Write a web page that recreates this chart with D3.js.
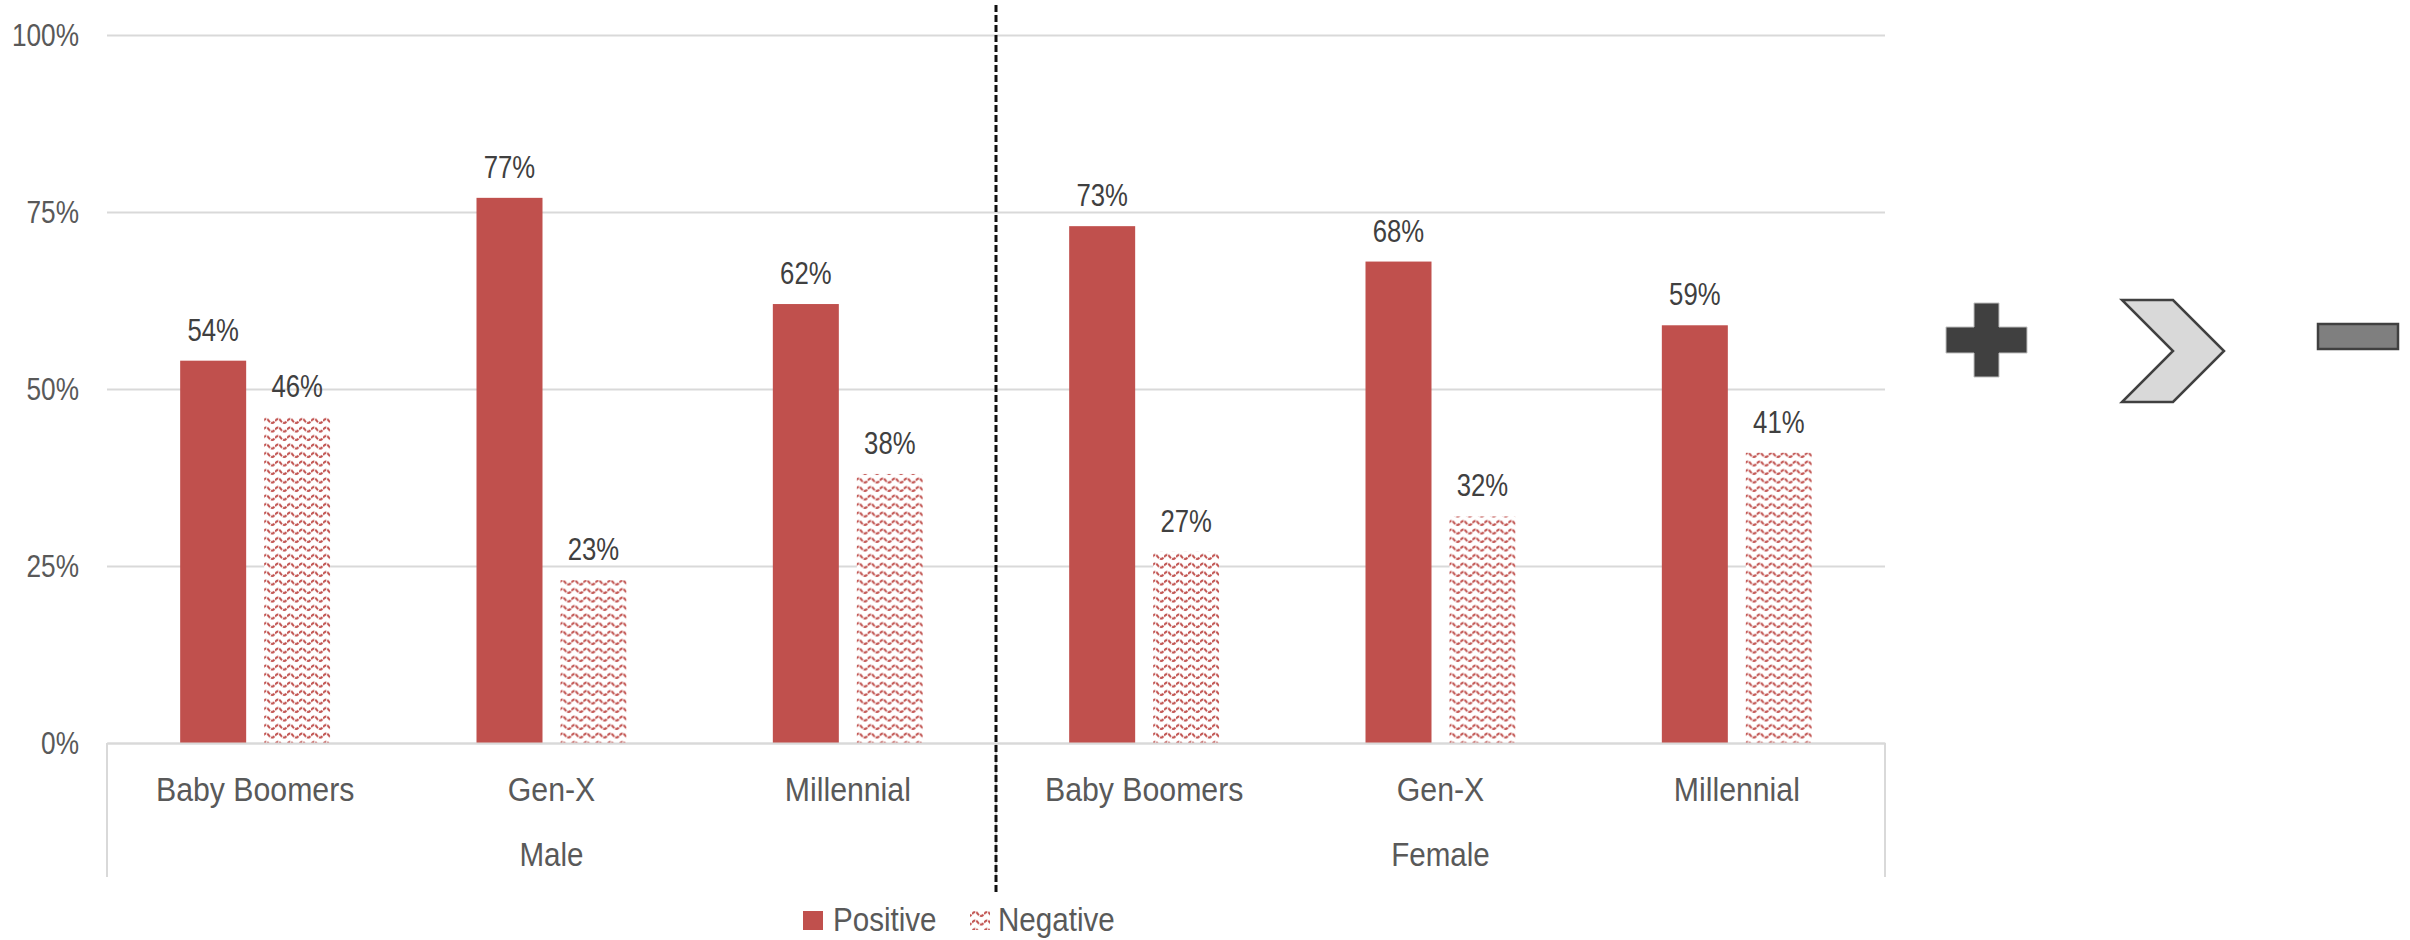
<!DOCTYPE html>
<html>
<head>
<meta charset="utf-8">
<script src="https://cdn.jsdelivr.net/npm/d3@7"></script>
<style>
  body { margin: 0; background: #fff; }
  svg { display: block; }
  text { font-family: "Liberation Sans", Arial, sans-serif; }
</style>
</head>
<body>
<svg id="chart" width="2410" height="940"></svg>
<script>
// ---- data ----
const genders = ["Male", "Female"];
const generations = ["Baby Boomers", "Gen-X", "Millennial"];
const seriesNames = ["Positive", "Negative"];
const positive = [54, 77, 62, 73, 68, 59];   // Male x3, then Female x3
const negative = [46, 23, 38, 27, 32, 41];
const yTicks = [0, 25, 50, 75, 100];

// ---- layout ----
const W = 2410, H = 940;
const plotLeft = 107, plotRight = 1885, plotTop = 35, plotBottom = 743;
const RED = "#c0504d";

const svg = d3.select("#chart").attr("width", W).attr("height", H);

// pattern for the "Negative" series: red waves on white
const defs = svg.append("defs");
const pat = defs.append("pattern")
  .attr("id", "wave")
  .attr("patternUnits", "userSpaceOnUse")
  .attr("width", 12).attr("height", 8.5);
pat.append("rect").attr("width", 12).attr("height", 8.5).attr("fill", "#fff");
pat.append("path")
  .attr("d", "M0,4.5 Q3,0.5 6,4.5 T12,4.5")
  .attr("fill", "none")
  .attr("stroke", RED)
  .attr("stroke-width", 2)
  .attr("stroke-dasharray", "4,1");

const cats = [];
genders.forEach(g => generations.forEach(c => cats.push({ gender: g, gen: c, key: g + "|" + c })));
cats.forEach((d, i) => { d.Positive = positive[i]; d.Negative = negative[i]; });

const x = d3.scaleBand().domain(cats.map(d => d.key)).range([plotLeft, plotRight]);
const xGroup = d3.scaleBand().domain(genders).range([plotLeft, plotRight]);
const y = d3.scaleLinear().domain([0, 100]).range([plotBottom, plotTop]);

// two bars per category: bar 66 px, gap 18 px inside a ~296 px band
const step = 84, pIn = 18 / 84;
const pOut = (x.bandwidth() / step - 2 + pIn) / 2;
const xs = d3.scaleBand().domain(seriesNames).range([0, x.bandwidth()])
  .paddingInner(pIn).paddingOuter(pOut);

// condensed text helper (keeps the anchor position)
function condense(sel, k) {
  sel.each(function () {
    const t = d3.select(this);
    const xv = +t.attr("x") || 0;
    t.attr("x", xv / k).attr("transform", `scale(${k},1)`);
  });
}

// ---- gridlines + y labels ----
const yAxis = svg.append("g")
  .attr("transform", `translate(${plotLeft},0)`)
  .call(d3.axisLeft(y).tickValues(yTicks).tickFormat(d => d + "%")
        .tickSize(-(plotRight - plotLeft)).tickPadding(28));
yAxis.select(".domain").remove();
yAxis.selectAll(".tick line").attr("stroke", "#d9d9d9").attr("stroke-width", 2);
yAxis.selectAll(".tick text")
  .attr("fill", "#595959").attr("font-size", 32).attr("dy", "0.34em");
condense(yAxis.selectAll(".tick text"), 0.82);

// ---- bars ----
const gCat = svg.append("g").selectAll("g").data(cats).join("g")
  .attr("transform", d => `translate(${x(d.key)},0)`);

gCat.selectAll("rect").data(d => seriesNames.map(s => ({ s, v: d[s] }))).join("rect")
  .attr("x", d => xs(d.s))
  .attr("width", xs.bandwidth())
  .attr("y", d => y(d.v))
  .attr("height", d => y(0) - y(d.v))
  .attr("fill", d => d.s === "Positive" ? RED : "url(#wave)");

const valLabels = gCat.selectAll("text").data(d => seriesNames.map(s => ({ s, v: d[s] }))).join("text")
  .attr("x", d => xs(d.s) + xs.bandwidth() / 2)
  .attr("y", d => y(d.v) - 20)
  .attr("text-anchor", "middle")
  .attr("font-size", 31)
  .attr("fill", "#404040")
  .text(d => d.v + "%");
condense(valLabels, 0.83);

// ---- category axis ----
const xAxis = svg.append("g")
  .attr("transform", `translate(0,${plotBottom})`)
  .call(d3.axisBottom(x).tickSize(0).tickFormat(k => k.split("|")[1]));
xAxis.select(".domain").attr("stroke", "#d9d9d9").attr("stroke-width", 2);
xAxis.selectAll(".tick text")
  .attr("y", 58).attr("dy", 0)
  .attr("fill", "#595959").attr("font-size", 34);
condense(xAxis.selectAll(".tick text"), 0.89);

const gAxis = svg.append("g")
  .attr("transform", `translate(0,${plotBottom})`)
  .call(d3.axisBottom(xGroup).tickSize(0));
gAxis.select(".domain").remove();
gAxis.selectAll(".tick text")
  .attr("y", 123).attr("dy", 0)
  .attr("fill", "#595959").attr("font-size", 34);
condense(gAxis.selectAll(".tick text"), 0.87);

// group separators of the two-level axis
const seps = [plotLeft, xGroup("Female"), plotRight];
svg.append("g").selectAll("line").data(seps).join("line")
  .attr("x1", d => d).attr("x2", d => d)
  .attr("y1", plotBottom).attr("y2", 877)
  .attr("stroke", "#d9d9d9").attr("stroke-width", 2);

// dashed divider between Male and Female
svg.append("line")
  .attr("x1", xGroup("Female")).attr("x2", xGroup("Female"))
  .attr("y1", 5).attr("y2", 895)
  .attr("stroke", "#111").attr("stroke-width", 3)
  .attr("stroke-dasharray", "7,3");

// ---- legend ----
const legend = svg.append("g");
const legendItems = [
  { name: "Positive", sx: 803, tx: 833, fill: RED },
  { name: "Negative", sx: 970, tx: 998, fill: "url(#wave)" }
];
legendItems.forEach(it => {
  legend.append("rect").attr("x", it.sx).attr("y", 911)
    .attr("width", 20).attr("height", 19).attr("fill", it.fill);
  const t = legend.append("text").attr("x", it.tx).attr("y", 931)
    .attr("font-size", 34).attr("fill", "#595959").text(it.name);
  condense(t, 0.87);
});

// ---- plus / chevron / minus icons ----
const icons = svg.append("g");
icons.append("path")
  .attr("d", "M1974,303 H1999 V327 H2027 V353 H1999 V377 H1974 V353 H1946 V327 H1974 Z")
  .attr("fill", "#404040").attr("stroke", "#bfbfbf").attr("stroke-width", 1);
icons.append("path")
  .attr("d", "M2122,300 H2173 L2224,351 L2173,402 H2122 L2173,351 Z")
  .attr("fill", "#d9d9d9").attr("stroke", "#404040").attr("stroke-width", 2.5)
  .attr("stroke-linejoin", "miter");
icons.append("rect")
  .attr("x", 2318).attr("y", 324).attr("width", 80).attr("height", 25)
  .attr("fill", "#7f7f7f").attr("stroke", "#404040").attr("stroke-width", 2.5);
</script>
</body>
</html>
